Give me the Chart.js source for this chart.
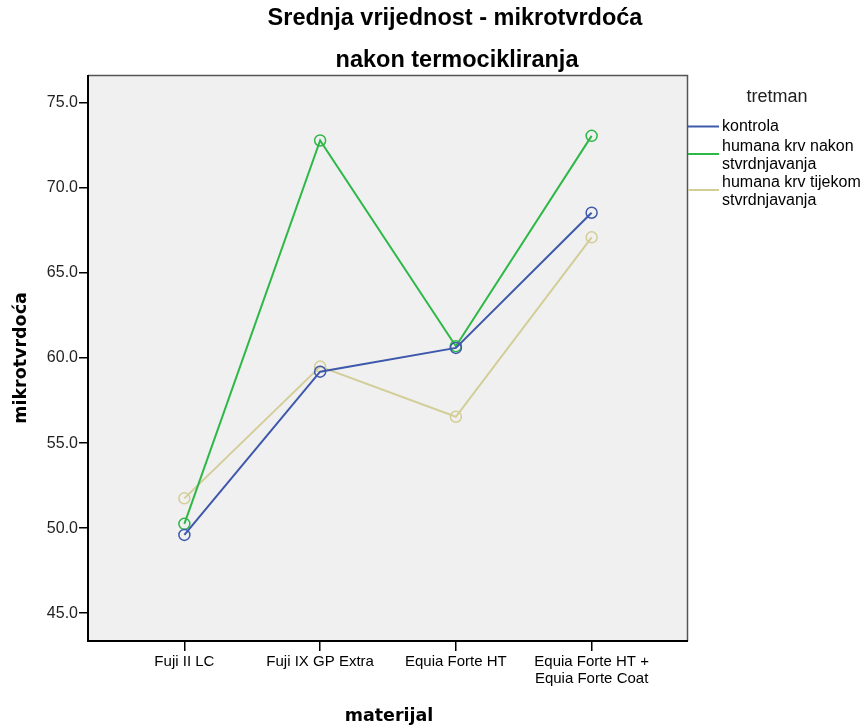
<!DOCTYPE html>
<html><head><meta charset="utf-8">
<script src="https://cdn.jsdelivr.net/npm/chart.js@4/dist/chart.umd.min.js"></script>
<style>html,body{margin:0;padding:0;background:#fff;}#wrap{width:863px;height:727px;position:relative;}</style>
</head><body><div id="wrap"><canvas id="c" width="863" height="727"></canvas></div>
<script>
const categories = ["Fuji II LC", "Fuji IX GP Extra", "Equia Forte HT", ["Equia Forte HT +", "Equia Forte Coat"]];
const seriesNames = [["kontrola"], ["humana krv nakon", "stvrdnjavanja"], ["humana krv tijekom", "stvrdnjavanja"]];
const kontrola = [49.6, 59.2, 60.6, 68.55];
const krvNakon = [50.25, 72.8, 60.7, 73.07];
const krvTijekom = [51.75, 59.5, 56.55, 67.1];
const yTicks = [45, 50, 55, 60, 65, 70, 75];
const colors = ["#3E58AC", "#2EB848", "#D3CE97"];
const titleLines = ["Srednja vrijednost - mikrotvrdoća", "nakon termocikliranja"];
const legendTitle = "tretman";
const xTitle = "materijal";
const yTitle = "mikrotvrdoća";

const FONT = '"Liberation Sans", Arial, sans-serif';
const BFONT = '"DejaVu Sans", sans-serif';
function mk(vals){ return vals.map((v,i)=>({x:i,y:v})); }
const allSeries = [kontrola, krvNakon, krvTijekom];

const decor = {
  id:'decor',
  beforeDatasetsDraw(chart){
    const {ctx, chartArea:a} = chart;
    ctx.save();
    ctx.fillStyle = '#F0F0F0';
    ctx.fillRect(a.left, a.top, a.right-a.left, a.bottom-a.top);
    ctx.restore();
  },
  afterDraw(chart){
    const {ctx, chartArea:a} = chart;
    ctx.save();
    ctx.strokeStyle = '#555';
    ctx.lineWidth = 1.5;
    ctx.beginPath();
    ctx.moveTo(a.left, a.top+0.5); ctx.lineTo(a.right-0.5, a.top+0.5); ctx.lineTo(a.right-0.5, a.bottom);
    ctx.stroke();
    ctx.strokeStyle = '#000'; ctx.lineWidth = 2;
    ctx.beginPath();
    ctx.moveTo(a.left, a.top); ctx.lineTo(a.left, a.bottom); ctx.lineTo(a.right, a.bottom);
    ctx.stroke();
    // titles
    ctx.fillStyle = '#000';
    ctx.textAlign = 'center'; ctx.textBaseline = 'middle';
    ctx.font = 'bold 23.5px ' + FONT;
    ctx.fillText(titleLines[0], 455, 19);
    ctx.fillText(titleLines[1], 457, 61);
    ctx.font = 'bold 17.5px ' + BFONT;
    ctx.fillText(xTitle, 389, 716);
    ctx.save();
    ctx.translate(21, 358); ctx.rotate(-Math.PI/2);
    ctx.fillText(yTitle, 0, 0);
    ctx.restore();
    // legend
    ctx.font = '18px ' + FONT;
    ctx.fillStyle = '#222';
    ctx.fillText(legendTitle, 777, 97);
    ctx.font = '16px ' + FONT;
    ctx.textAlign = 'left';
    const rows = [127, 147, 183];
    const lineYs = [126.5, 154, 190];
    seriesNames.forEach((lines, i)=>{
      const y0 = rows[i];
      ctx.strokeStyle = colors[i]; ctx.lineWidth = 2;
      ctx.beginPath(); ctx.moveTo(a.right, lineYs[i]); ctx.lineTo(719, lineYs[i]); ctx.stroke();
      ctx.fillStyle = '#000';
      lines.forEach((t, j)=> ctx.fillText(t, 722, y0 + j*17.5));
    });
    ctx.restore();
  }
};

new Chart(document.getElementById('c'), {
  type:'line',
  data:{
    datasets: allSeries.map((s,i)=>({
      label: seriesNames[i].join(' '),
      data: mk(s),
      borderColor: colors[i],
      backgroundColor: 'rgba(0,0,0,0)',
      pointBorderColor: colors[i],
      pointBackgroundColor: 'rgba(0,0,0,0)',
      pointRadius: 5.5,
      pointBorderWidth: 1.5,
      borderWidth: 2,
      tension: 0
    }))
  },
  options:{
    responsive:false,
    animation:false,
    devicePixelRatio:1,
    layout:{padding:{top:75, right:175, left:0, bottom:0}},
    plugins:{legend:{display:false}, title:{display:false}, tooltip:{enabled:false}},
    scales:{
      x:{
        type:'linear', min:-0.71, max:3.71,
        afterBuildTicks(s){ s.ticks = categories.map((c,i)=>({value:i})); },
        afterFit(s){ s.height = 86; },
        ticks:{ autoSkip:false, maxRotation:0, color:'#000', font:{family:FONT, size:15, lineHeight:1.15}, padding:2,
          callback(v){ return categories[v]; } },
        grid:{ display:true, drawOnChartArea:false, drawTicks:true, tickLength:10, color:'#000', lineWidth:1.5 },
        border:{ display:false }
      },
      y:{
        type:'linear', min:43.36, max:76.65,
        afterBuildTicks(s){ s.ticks = yTicks.map(v=>({value:v})); },
        afterFit(s){ s.width = 88; },
        ticks:{ color:'#222', font:{family:FONT, size:16}, padding:1, callback(v){ return v.toFixed(1); } },
        grid:{ display:true, drawOnChartArea:false, drawTicks:true, tickLength:9, color:'#000', lineWidth:1.5 },
        border:{ display:false }
      }
    }
  },
  plugins:[decor]
});
</script></body></html>
